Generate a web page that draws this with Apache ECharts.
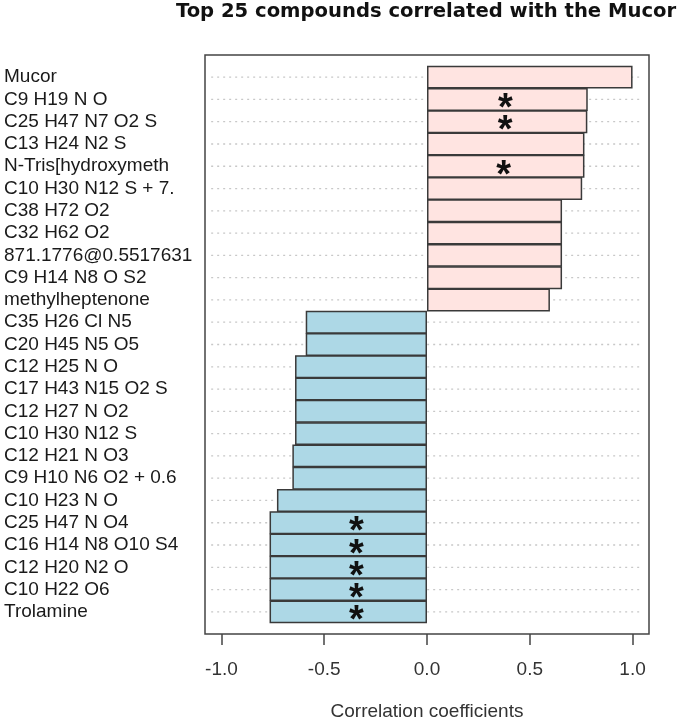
<!DOCTYPE html>
<html>
<head>
<meta charset="utf-8">
<script src="https://cdn.jsdelivr.net/npm/echarts@6/dist/echarts.min.js"></script>
<style>html,body{margin:0;padding:0;background:#fff}#c{width:685px;height:722px}</style>
</head>
<body>
<div id="c"></div>
<script>
const chartTitle = 'Top 25 compounds correlated with the Mucor';
const axisTitle = 'Correlation coefficients';
const categories = [
  'Mucor', 'C9 H19 N O', 'C25 H47 N7 O2 S', 'C13 H24 N2 S', 'N-Tris[hydroxymeth',
  'C10 H30 N12 S + 7.', 'C38 H72 O2', 'C32 H62 O2', '871.1776@0.5517631', 'C9 H14 N8 O S2',
  'methylheptenone', 'C35 H26 Cl N5', 'C20 H45 N5 O5', 'C12 H25 N O', 'C17 H43 N15 O2 S',
  'C12 H27 N O2', 'C10 H30 N12 S', 'C12 H21 N O3', 'C9 H10 N6 O2 + 0.6', 'C10 H23 N O',
  'C25 H47 N O4', 'C16 H14 N8 O10 S4', 'C12 H20 N2 O', 'C10 H22 O6', 'Trolamine'
];
const correlations = [
  1.000, 0.782, 0.780, 0.766, 0.766,
  0.755, 0.657, 0.657, 0.657, 0.657,
  0.598, -0.590, -0.590, -0.642, -0.642,
  -0.642, -0.642, -0.655, -0.655, -0.730,
  -0.766, -0.766, -0.766, -0.766, -0.766
];
const significant = [
  0, 1, 1, 0, 1,
  0, 0, 0, 0, 0,
  0, 0, 0, 0, 0,
  0, 0, 0, 0, 0,
  1, 1, 1, 1, 1
];
const tickValues = [-1.0, -0.5, 0.0, 0.5, 1.0];
const axisMin = -1.08, axisMax = 1.08;

const posColor = '#FFE4E1';
const negColor = '#ADD8E6';
const lblFont = 'Liberation Sans, Arial, sans-serif';

const barData = correlations.map((v, i) => ({
  value: v,
  itemStyle: { color: v >= 0 ? posColor : negColor },
  label: {
    show: !!significant[i],
    formatter: '*',
    position: 'inside',
    fontSize: 38,
    fontWeight: 'bold',
    fontFamily: lblFont,
    color: '#111',
    offset: [v >= 0 ? -2 : 8, 10]
  }
}));

const chart = echarts.init(document.getElementById('c'), null, { renderer: 'canvas' });
chart.setOption({
  animation: false,
  backgroundColor: '#fff',
  title: {
    text: chartTitle,
    left: 421,
    top: -3,
    textAlign: 'center',
    textStyle: { fontFamily: 'DejaVu Sans', fontWeight: 'bold', fontSize: 19.6, color: '#111' }
  },
  grid: [
    { left: 205, right: 36, top: 66, bottom: 99, outerBoundsMode: 'none', containLabel: false },
    { left: 205, right: 36, top: 55, bottom: 88, outerBoundsMode: 'none', containLabel: false,
      show: true, borderColor: '#444', borderWidth: 1.5, backgroundColor: 'transparent' }
  ],
  xAxis: [
    { gridIndex: 0, type: 'value', min: axisMin, max: axisMax, show: false },
    {
      gridIndex: 1, type: 'value', min: axisMin, max: axisMax,
      axisLine: { show: false },
      splitLine: { show: false },
      axisTick: { show: true, customValues: tickValues, length: 11, lineStyle: { color: '#444', width: 1.5 } },
      axisLabel: { show: true, customValues: tickValues, margin: 26, fontSize: 19, fontFamily: lblFont, color: '#333',
        formatter: v => v.toFixed(1) },
      name: axisTitle,
      nameLocation: 'middle',
      nameGap: 68,
      nameMoveOverlap: false,
      nameTextStyle: { fontSize: 19, fontFamily: lblFont, color: '#333' }
    }
  ],
  yAxis: [
    {
      gridIndex: 0, type: 'category', data: categories, inverse: true,
      axisLine: { show: false }, axisTick: { show: false }, splitLine: { show: false },
      axisLabel: { align: 'left', margin: 201, fontSize: 19, fontFamily: lblFont, color: '#1a1a1a', interval: 0 }
    },
    { gridIndex: 1, type: 'value', min: 0, max: 1, show: false }
  ],
  series: [
    {
      type: 'custom',
      xAxisIndex: 0, yAxisIndex: 0,
      z: 1,
      silent: true,
      data: categories.map((c, i) => [0, i]),
      encode: { x: 0, y: 1 },
      renderItem: function (params, api) {
        const y = api.coord([0, api.value(1)])[1];
        const x1 = api.coord([-1.05, api.value(1)])[0];
        const x2 = api.coord([1.05, api.value(1)])[0];
        return {
          type: 'line',
          shape: { x1: x1, y1: y, x2: x2, y2: y },
          style: { stroke: '#c8c8c8', lineWidth: 1.3, lineDash: [2, 4] }
        };
      }
    },
    {
      type: 'bar',
      xAxisIndex: 0, yAxisIndex: 0,
      z: 3,
      barCategoryGap: 0,
      barWidth: '103%',
      data: barData,
      itemStyle: { borderColor: '#3a3a3a', borderWidth: 1.5 }
    }
  ]
});
</script>
</body>
</html>
